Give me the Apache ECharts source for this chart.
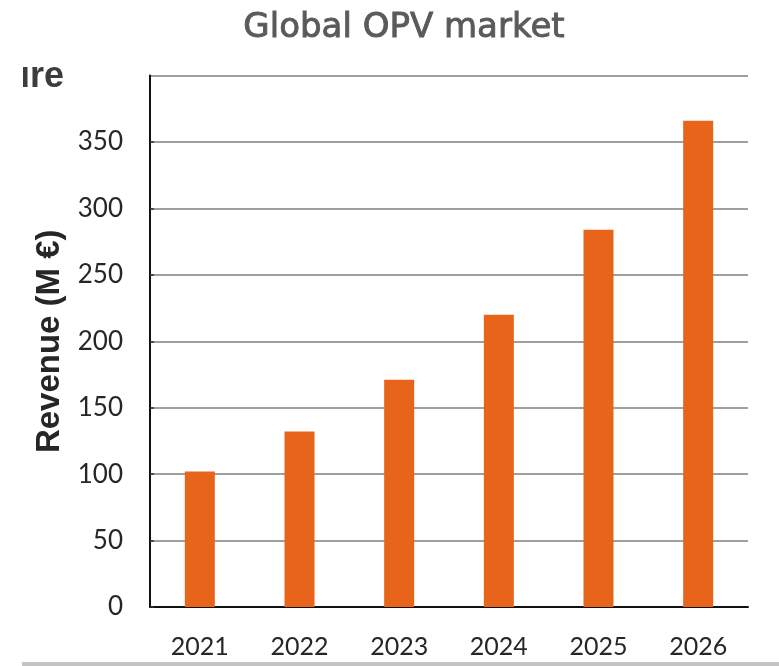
<!DOCTYPE html>
<html>
<head>
<meta charset="utf-8">
<title>Global OPV market</title>
<script src="https://cdn.jsdelivr.net/npm/echarts@6/dist/echarts.min.js"></script>
<style>
  html, body { margin: 0; padding: 0; background: #ffffff; }
  #chart { width: 779px; height: 666px; }
</style>
</head>
<body>
<div id="chart"></div>
<script>
// Global OPV market revenue by year (M €)
const years = ['2021', '2022', '2023', '2024', '2025', '2026'];
const revenue = [102, 132, 171, 220, 284, 366];
const yTicks = { min: 0, max: 400, step: 50 };

const chart = echarts.init(document.getElementById('chart'), null, { renderer: 'canvas' });

chart.setOption({
  backgroundColor: '#ffffff',
  animation: false,
  title: {
    text: 'Global OPV market',
    left: 399,
    top: 6,
    textAlign: 'center',
    textStyle: {
      fontFamily: 'DejaVu Sans',
      fontSize: 34,
      fontWeight: 'normal',
      color: '#5a5a5a',
      textBorderColor: '#5a5a5a',
      textBorderWidth: 0.9
    }
  },
  grid: { left: 150, right: 31, top: 75.5, bottom: 59, containLabel: false },
  xAxis: {
    type: 'category',
    data: years,
    axisLine: { show: true, lineStyle: { color: '#111111', width: 2 } },
    axisTick: { show: false },
    axisLabel: {
      margin: 27,
      fontFamily: 'Lato',
      fontSize: 25,
      color: '#262626'
    },
    splitLine: { show: false }
  },
  yAxis: {
    type: 'value',
    min: yTicks.min,
    max: yTicks.max,
    interval: yTicks.step,
    name: 'Revenue (M €)',
    nameLocation: 'middle',
    nameRotate: 90,
    nameGap: 80,
    nameTextStyle: {
      fontFamily: 'Liberation Sans',
      fontWeight: 'bold',
      fontSize: 33,
      color: '#262626'
    },
    axisLine: { show: true, lineStyle: { color: '#111111', width: 2 } },
    axisTick: { show: true, inside: true, length: 4, lineStyle: { color: '#333333', width: 1.5 } },
    axisLabel: {
      margin: 27,
      showMaxLabel: false,
      fontFamily: 'Lato',
      fontSize: 26,
      color: '#262626'
    },
    splitLine: { show: true, lineStyle: { color: '#7f7f7f', width: 1.5 } }
  },
  series: [{
    type: 'bar',
    data: revenue,
    barWidth: 30,
    itemStyle: { color: '#E7641A' }
  }],
  graphic: [
    {
      type: 'text',
      left: 8,
      top: 59,
      z: 10,
      style: {
        text: 'ure',
        fontFamily: 'Liberation Sans',
        fontWeight: 'bold',
        fontSize: 36,
        fill: '#3c3c3c'
      }
    },
    {
      type: 'rect',
      z: 11,
      shape: { x: 0, y: 50, width: 23, height: 50 },
      style: { fill: '#ffffff' }
    },
    {
      type: 'rect',
      z: 10,
      shape: { x: 22, y: 662, width: 757, height: 4 },
      style: { fill: '#c4c4c4' }
    }
  ]
});
</script>
</body>
</html>
